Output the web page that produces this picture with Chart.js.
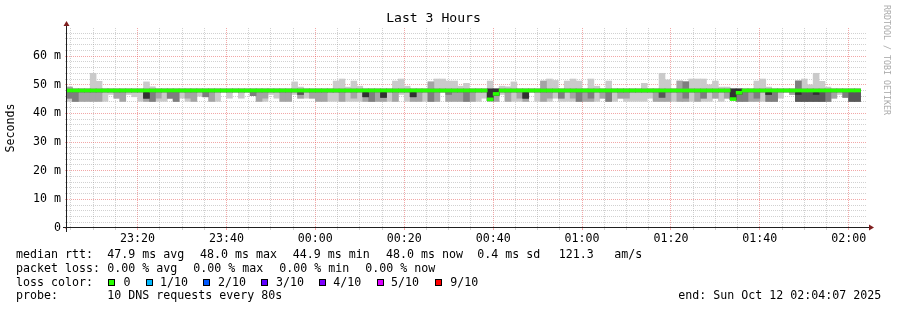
<!DOCTYPE html>
<html>
<head>
<meta charset="utf-8">
<title>Last 3 Hours</title>
<script src="https://cdn.jsdelivr.net/npm/chart.js@4.4.1/dist/chart.umd.min.js"></script>
<style>
  html, body { margin:0; padding:0; background:#fff; }
  #wrap { position:relative; width:897px; height:310px; overflow:hidden; background:#fff; }
  #chart { position:absolute; left:0; top:0; }
  .t { position:absolute; font-family:"DejaVu Sans Mono", monospace; font-size:11.63px; line-height:14px; white-space:pre; color:#000; }
  .sw { position:absolute; width:7px; height:7px; box-sizing:border-box; border:1px solid #000; }
  #wm { position:absolute; left:892px; top:5px; transform-origin:0 0; transform:rotate(90deg);
        font-family:"DejaVu Sans Mono", monospace; font-size:8.3px; line-height:10px; color:#aaaaaa; white-space:pre; }
</style>
</head>
<body>
<div id="wrap">
  <canvas id="chart" width="897" height="310"></canvas>
  <div id="wm">RRDTOOL / TOBI OETIKER</div>

  <div class="t" style="left:16px;top:246.7px">median rtt:</div>
  <div class="t" style="left:107.3px;top:246.7px">47.9 ms avg</div>
  <div class="t" style="left:200px;top:246.7px">48.0 ms max</div>
  <div class="t" style="left:292.7px;top:246.7px">44.9 ms min</div>
  <div class="t" style="left:386px;top:246.7px">48.0 ms now</div>
  <div class="t" style="left:477.3px;top:246.7px">0.4 ms sd</div>
  <div class="t" style="left:558.7px;top:246.7px">121.3</div>
  <div class="t" style="left:614.3px;top:246.7px">am/s</div>

  <div class="t" style="left:16px;top:260.6px">packet loss:</div>
  <div class="t" style="left:107.3px;top:260.6px">0.00 % avg</div>
  <div class="t" style="left:193.3px;top:260.6px">0.00 % max</div>
  <div class="t" style="left:279.3px;top:260.6px">0.00 % min</div>
  <div class="t" style="left:365.3px;top:260.6px">0.00 % now</div>

  <div class="t" style="left:16px;top:274.5px">loss color:</div>
  <div class="sw" style="left:108px;top:278.5px;background:#26ff00"></div>
  <div class="t" style="left:123.5px;top:274.5px">0</div>
  <div class="sw" style="left:146px;top:278.5px;background:#00b8ff"></div>
  <div class="t" style="left:160px;top:274.5px">1/10</div>
  <div class="sw" style="left:203px;top:278.5px;background:#0059ff"></div>
  <div class="t" style="left:218px;top:274.5px">2/10</div>
  <div class="sw" style="left:261px;top:278.5px;background:#5e00ff"></div>
  <div class="t" style="left:276px;top:274.5px">3/10</div>
  <div class="sw" style="left:319px;top:278.5px;background:#7e00ff"></div>
  <div class="t" style="left:333.3px;top:274.5px">4/10</div>
  <div class="sw" style="left:377px;top:278.5px;background:#dd00ff"></div>
  <div class="t" style="left:391px;top:274.5px">5/10</div>
  <div class="sw" style="left:435px;top:278.5px;background:#ff0000"></div>
  <div class="t" style="left:450.3px;top:274.5px">9/10</div>

  <div class="t" style="left:16px;top:288.4px">probe:</div>
  <div class="t" style="left:107.3px;top:288.4px">10 DNS requests every 80s</div>
  <div class="t" style="left:678.3px;top:288.4px">end: Sun Oct 12 02:04:07 2025</div>
</div>

<script>
// ---------------- data ----------------
const windowStart = '23:04:07';
const windowEnd   = '02:04:07';
const firstStepStart = '23:04:00';   // first 80 s step (starts just before the window)
const stepSeconds = 80;

const timeLabels = ['23:20','23:40','00:00','00:20','00:40','01:00','01:20','01:40','02:00'];
const yLabels = ['0','10 m','20 m','30 m','40 m','50 m','60 m'];
const yLabelValues = [0, 10, 20, 30, 40, 50, 60];
const yMaxMs = 69.8;

// median rtt per 80 s step (ms)
const median = [
 48.0,48.0,48.0,48.0,48.0,48.0,48.0,48.0,48.0,48.0,
 48.0,48.0,48.0,48.0,48.0,48.0,48.0,48.0,48.0,48.0,
 48.0,48.0,48.0,48.0,48.0,48.0,48.0,48.0,48.0,48.0,
 48.0,48.0,48.0,48.0,48.0,48.0,48.0,48.0,48.0,48.0,
 48.0,48.0,48.0,48.0,48.0,48.0,48.0,48.0,48.0,48.0,
 48.0,48.0,48.0,48.0,48.0,48.0,48.0,48.0,48.0,48.0,
 48.0,48.0,48.0,48.0,48.0,48.0,48.0,48.0,48.0,48.0,
 48.0,44.9,46.8,48.0,48.0,48.0,48.0,48.0,48.0,48.0,
 48.0,48.0,48.0,48.0,48.0,48.0,48.0,48.0,48.0,48.0,
 48.0,48.0,48.0,48.0,48.0,48.0,48.0,48.0,48.0,48.0,
 48.0,48.0,48.0,48.0,48.0,48.0,48.0,48.0,48.0,48.0,
 48.0,48.0,45.0,47.2,48.0,48.0,48.0,48.0,48.0,48.0,
 48.0,48.0,48.0,48.0,48.0,48.0,48.0,48.0,48.0,48.0,
 48.0,48.0,48.0,48.0];

// sorted pings per step (ms): p1 = fastest ... p10 = slowest
const p1 = [
 44.2,44.2,44.2,44.2,44.2,44.2,44.2,46.6,45.3,44.2,
 46.6,45.8,44.2,44.2,44.2,44.2,44.2,45.3,44.2,45.3,
 44.2,44.2,46.0,45.8,44.2,44.2,47.5,45.3,47.5,45.3,
 47.5,46.2,44.2,44.2,46.6,45.3,44.2,44.2,46.6,45.3,
 45.3,45.3,44.2,44.2,44.2,44.2,44.2,44.2,44.2,44.2,
 44.2,44.2,44.2,44.2,44.2,44.2,46.6,44.2,44.2,44.2,
 44.2,44.2,44.2,47.5,44.2,44.2,44.2,44.2,44.2,44.2,
 45.3,44.4,44.2,46.6,44.2,44.2,44.2,44.2,47.5,44.2,
 44.2,44.2,45.3,44.2,44.2,44.2,44.2,44.2,44.2,44.2,
 45.3,44.2,44.2,45.3,44.2,44.2,44.2,44.2,45.3,44.2,
 44.2,44.2,44.2,44.2,44.2,44.2,44.2,44.2,44.2,45.3,
 44.2,45.3,44.8,44.2,44.2,44.2,44.2,44.2,44.2,44.2,
 45.3,47.5,46.6,44.2,44.2,44.2,44.2,44.2,44.2,45.3,
 46.6,45.6,44.2,44.2];
const p2 = [
 45.3,44.2,44.2,44.2,44.2,44.2,47.5,47.5,45.3,44.2,
 47.5,47.5,47.5,44.2,44.2,45.3,47.5,45.3,44.2,47.5,
 45.3,44.2,47.5,45.8,44.2,47.5,47.5,47.5,47.5,47.5,
 47.5,46.2,44.2,45.3,47.5,47.5,44.2,44.2,47.5,45.3,
 47.5,45.3,44.2,44.2,47.5,47.5,44.2,47.5,45.3,47.5,
 44.2,44.2,44.2,44.2,47.5,44.2,47.5,47.5,44.2,44.2,
 47.5,44.2,44.2,47.5,44.2,44.2,44.2,44.2,44.2,47.5,
 47.5,44.4,44.2,47.5,44.2,47.5,45.3,44.2,47.5,47.5,
 44.2,45.3,47.5,45.3,47.5,45.3,44.2,44.2,44.2,47.5,
 45.3,44.2,47.5,45.3,45.3,47.5,47.5,47.5,47.5,44.2,
 44.2,44.2,47.5,44.2,44.2,47.5,44.2,45.3,47.5,45.3,
 47.5,45.3,44.8,44.2,44.2,44.2,44.2,47.5,44.2,44.2,
 47.5,47.5,46.6,44.2,44.2,44.2,44.2,44.2,44.2,45.3,
 47.5,45.6,44.2,44.2];
const p3 = [
 45.3,44.2,47.5,47.5,47.5,47.5,47.5,47.5,47.5,47.5,
 47.5,47.5,47.5,45.3,44.2,47.5,47.5,45.3,44.2,47.5,
 47.5,47.5,47.5,45.8,47.5,47.5,47.5,47.5,47.5,47.5,
 47.5,46.2,47.5,47.5,47.5,47.5,47.5,47.5,47.5,46.6,
 47.5,47.5,47.5,47.5,47.5,47.5,47.5,47.5,47.5,47.5,
 45.8,44.2,47.5,45.6,47.5,47.5,47.5,47.5,45.8,47.5,
 47.5,44.2,47.5,47.5,46.6,47.5,47.5,44.2,47.5,47.5,
 47.5,44.4,46.3,47.5,47.5,47.5,47.5,45.3,47.5,47.5,
 47.5,47.5,47.5,45.3,47.5,47.5,44.2,47.5,45.3,47.5,
 47.5,44.2,47.5,47.5,47.5,47.5,47.5,47.5,47.5,47.5,
 45.6,47.5,47.5,47.5,45.3,47.5,47.5,45.3,47.5,47.5,
 47.5,47.5,44.8,44.2,44.2,47.5,45.3,47.5,44.2,44.2,
 47.5,47.5,47.5,44.2,44.2,44.2,44.2,44.2,44.2,47.5,
 47.5,45.6,44.2,44.2];
const p4 = [
 47.5,47.5,47.5,47.5,47.5,47.5,47.5,47.5,47.5,47.5,
 47.5,47.5,47.5,45.3,47.5,47.5,47.5,47.5,47.5,47.5,
 47.5,47.5,47.5,47.5,47.5,47.5,47.5,47.5,47.5,47.5,
 47.5,47.5,47.5,47.5,47.5,47.5,47.5,47.5,47.5,46.6,
 47.5,47.5,47.5,47.5,47.5,47.5,47.5,47.5,47.5,47.5,
 45.8,47.5,47.5,45.6,47.5,47.5,47.5,47.5,45.8,47.5,
 47.5,47.5,47.5,47.5,47.5,47.5,47.5,47.5,47.5,47.5,
 47.5,44.4,46.3,47.5,47.5,47.5,47.5,45.3,47.5,47.5,
 47.5,47.5,47.5,47.5,47.5,47.5,47.5,47.5,47.5,47.5,
 47.5,47.5,47.5,47.5,47.5,47.5,47.5,47.5,47.5,47.5,
 45.6,47.5,47.5,47.5,47.5,47.5,47.5,47.5,47.5,47.5,
 47.5,47.5,44.8,46.7,47.5,47.5,47.5,47.5,46.6,47.5,
 47.5,47.5,47.5,44.2,44.2,44.2,44.2,44.2,47.5,47.5,
 47.5,47.5,44.2,44.2];
const p5 = [
 47.7,47.7,47.7,47.7,47.7,47.7,47.7,47.7,47.7,47.7,
 47.7,47.7,47.7,45.3,47.7,47.7,47.7,47.7,47.7,47.7,
 47.7,47.7,47.7,47.7,47.7,47.7,47.7,47.7,47.7,47.7,
 47.7,47.7,47.7,47.7,47.7,47.7,47.7,47.7,47.7,47.7,
 47.7,47.7,47.7,47.7,47.7,47.7,47.7,47.7,47.7,47.7,
 45.8,47.7,47.7,45.6,47.7,47.7,47.7,47.7,45.8,47.7,
 47.7,47.7,47.7,47.7,47.7,47.7,47.7,47.7,47.7,47.7,
 47.7,44.4,46.3,47.7,47.7,47.7,47.7,45.3,47.7,47.7,
 47.7,47.7,47.7,47.7,47.7,47.7,47.7,47.7,47.7,47.7,
 47.7,47.7,47.7,47.7,47.7,47.7,47.7,47.7,47.7,47.7,
 47.7,47.7,47.7,47.7,47.7,47.7,47.7,47.7,47.7,47.7,
 47.7,47.7,44.8,46.7,47.7,47.7,47.7,47.7,46.6,47.7,
 47.7,47.7,47.7,46.6,47.7,47.7,46.6,47.7,47.7,47.7,
 47.7,47.7,47.7,47.7];
const p6 = [
 48.3,48.3,48.3,48.3,48.3,48.3,48.3,48.3,48.3,48.3,
 48.3,48.3,48.3,48.3,48.3,48.3,48.3,48.3,48.3,48.3,
 48.3,48.3,48.3,48.3,48.3,48.3,48.3,48.3,48.3,48.3,
 48.3,48.3,48.3,48.3,48.3,48.3,48.3,48.3,48.3,48.3,
 48.3,48.3,48.3,48.3,48.3,48.3,48.3,48.3,48.3,48.3,
 48.3,48.3,48.3,48.3,48.3,48.3,48.3,48.3,48.3,48.3,
 48.3,48.3,48.3,48.3,48.3,48.3,48.3,48.3,48.3,48.3,
 48.3,48.5,48.5,48.3,48.3,48.3,48.3,48.3,48.3,48.3,
 48.3,48.3,48.3,48.3,48.3,48.3,48.3,48.3,48.3,48.3,
 48.3,48.3,48.3,48.3,48.3,48.3,48.3,48.3,48.3,48.3,
 48.3,48.3,48.3,48.3,48.3,48.3,48.3,48.3,48.3,48.3,
 48.3,48.3,48.5,48.5,48.3,48.3,48.3,48.3,48.3,48.3,
 48.3,48.3,48.3,48.3,48.3,48.3,48.3,48.3,48.3,48.3,
 48.3,48.3,48.3,48.3];
const p7 = [
 48.4,48.4,48.4,48.4,48.4,48.4,48.4,48.4,48.4,48.4,
 48.4,48.4,48.4,48.4,48.4,48.4,48.4,48.4,48.4,48.4,
 48.4,48.4,48.4,48.4,48.4,48.4,48.4,48.4,48.4,48.4,
 48.4,48.4,48.4,48.4,48.4,48.4,48.4,48.4,48.4,48.4,
 48.4,48.4,48.4,48.4,48.4,48.4,48.4,48.4,48.4,48.4,
 48.4,48.4,48.4,48.4,48.4,48.4,48.4,48.4,48.4,48.4,
 48.4,48.4,48.4,48.4,48.4,48.4,48.4,48.4,48.4,48.4,
 48.4,48.5,48.5,48.4,48.4,48.4,48.4,48.4,48.4,48.4,
 48.4,48.4,48.4,48.4,48.4,48.4,48.4,48.4,48.4,48.4,
 48.4,48.4,48.4,48.4,48.4,48.4,48.4,48.4,48.4,48.4,
 48.4,48.4,48.4,48.4,48.4,48.4,48.4,48.4,48.4,48.4,
 48.4,48.4,48.5,48.5,48.4,48.4,48.4,48.4,48.4,48.4,
 48.4,48.4,48.4,48.4,48.4,48.4,48.4,48.4,48.4,48.4,
 48.4,48.4,48.4,48.4];
const p8 = [
 48.5,48.5,48.5,48.5,48.5,48.5,48.5,48.5,48.5,48.5,
 48.5,48.5,48.5,48.5,48.5,48.5,48.5,48.5,48.5,48.5,
 48.5,48.5,48.5,48.5,48.5,48.5,48.5,48.5,48.5,48.5,
 48.5,48.5,48.5,48.5,48.5,48.5,48.5,48.5,48.5,48.5,
 48.5,48.5,48.5,48.5,48.5,48.5,48.5,48.5,48.5,48.5,
 48.5,48.5,48.5,48.5,48.5,48.5,48.5,48.5,48.5,48.5,
 48.5,48.5,48.5,48.5,48.5,48.5,48.5,48.5,48.5,48.5,
 48.5,48.5,48.5,48.5,48.5,48.5,48.5,48.5,48.5,48.5,
 48.5,48.5,48.5,48.5,48.5,48.5,48.5,48.5,48.5,48.5,
 48.5,48.5,48.5,48.5,48.5,48.5,48.5,48.5,48.5,48.5,
 48.5,48.5,48.5,48.5,51.0,48.5,48.5,48.5,48.5,48.5,
 48.5,48.5,48.5,48.5,48.5,48.5,48.5,48.5,48.5,48.5,
 48.5,48.5,48.5,51.3,48.5,48.5,48.5,48.5,48.5,48.5,
 48.5,48.5,48.5,48.5];
const p9 = [
 49.2,48.5,48.5,48.5,48.5,48.5,48.5,48.5,48.5,48.5,
 48.5,48.5,48.5,48.5,48.5,48.5,48.5,48.5,48.5,48.5,
 48.5,48.5,48.5,48.5,48.5,48.5,48.5,48.5,48.5,48.5,
 48.5,48.5,48.5,48.5,48.5,48.5,48.5,48.5,48.5,48.5,
 48.5,48.5,48.5,48.5,48.5,48.5,48.5,48.5,48.5,48.5,
 48.5,48.5,48.5,48.5,48.5,48.5,48.5,48.5,48.5,48.5,
 48.5,51.0,48.5,48.5,48.5,48.5,48.5,48.5,48.5,48.5,
 48.5,48.5,48.5,48.5,48.5,48.5,48.5,48.5,48.5,48.5,
 51.3,48.5,48.5,48.5,48.5,48.5,48.5,48.5,48.5,48.5,
 48.5,48.5,48.5,48.5,48.5,48.5,48.5,48.5,48.5,48.5,
 48.5,48.5,48.5,51.3,51.0,48.5,48.5,48.5,48.5,48.5,
 48.5,48.5,48.5,48.5,48.5,48.5,48.5,48.5,48.5,48.5,
 48.5,48.5,48.5,51.3,48.5,48.5,48.5,48.5,48.5,48.5,
 48.5,48.5,48.5,48.5];
const p10 = [
 49.2,48.6,48.6,48.6,54.0,51.2,48.6,48.6,48.6,48.6,
 48.6,48.6,48.6,51.0,49.3,48.6,48.6,48.6,48.6,48.6,
 48.6,48.6,48.6,48.6,48.6,48.6,48.6,48.6,48.6,48.6,
 48.6,48.6,48.6,48.6,48.6,48.6,48.6,48.6,51.0,49.2,
 48.6,48.6,48.6,48.6,48.6,51.3,52.0,49.2,51.3,49.5,
 48.6,48.6,48.6,48.6,48.6,51.3,52.0,49.5,48.6,48.6,
 48.6,51.0,52.0,52.0,51.3,51.3,49.5,50.5,48.6,48.6,
 48.6,51.3,48.6,49.5,49.3,51.0,48.6,48.6,48.6,48.6,
 51.3,52.0,51.5,48.6,51.3,52.0,51.3,48.6,52.0,49.5,
 48.6,51.3,48.6,48.6,48.6,48.6,48.6,50.5,48.6,48.6,
 54.0,51.7,48.6,51.3,51.0,52.0,52.0,52.0,50.0,51.3,
 49.2,49.2,48.6,48.6,48.6,48.6,51.3,52.0,49.2,48.6,
 48.6,48.6,48.6,51.3,52.0,50.0,54.0,51.2,49.2,48.6,
 48.6,48.6,48.6,48.6];

// ---------------- chart ----------------
const FONT = '"DejaVu Sans Mono", monospace';
const smokeGrays = ['#cacaca', '#a4a4a4', '#7e7e7e', '#585858', '#323232'];
const lossColor0 = '#26ff00';
const minorGrid = 'rgba(140,140,140,0.4)';
const majorGrid = 'rgba(230,80,80,0.5)';
const axisColor = '#1f1f1f';
const arrowColor = '#7f1f1f';

const toMin = s => {
  const [h, m, sec] = s.split(':').map(Number);
  let v = h * 60 + m + (sec || 0) / 60;
  if (h >= 12) v -= 1440;
  return v;
};
const xMin = toMin(windowStart), xMax = toMin(windowEnd);
const stepMin = stepSeconds / 60;
const t0 = toMin(firstStepStart);
const xs = median.map((_, i) => t0 + (i + 0.5) * stepMin);

const majorX = timeLabels.map(l => toMin(l + ':00'));
const gridX = [];
for (let v = Math.ceil(xMin / 5) * 5; v <= xMax; v += 5) gridX.push(v);
const gridY = [];
for (let v = 2; v < yMaxMs; v += 2) gridY.push(v);
gridY.unshift(0);

const isMajorX = v => majorX.some(m => Math.abs(m - v) < 1e-6);
const pairs = [[p1, p10], [p2, p9], [p3, p8], [p4, p7], [p5, p6]];
const datasets = pairs.map(([lo, hi], i) => ({
  label: 'smoke ' + (i + 1),
  data: xs.map((x, k) => ({ x, y: [lo[k], hi[k]] })),
  backgroundColor: smokeGrays[i],
  borderWidth: 0,
  grouped: false,
  barPercentage: 1,
  categoryPercentage: 1,
  order: 10 - i
}));
const medHalf = 0.52;
datasets.push({
  label: 'median rtt',
  data: xs.map((x, k) => ({ x, y: [median[k] - medHalf, median[k] + medHalf] })),
  backgroundColor: lossColor0,
  borderWidth: 0,
  grouped: false,
  barPercentage: 1,
  categoryPercentage: 1,
  order: 1
});

const rrdAxes = {
  id: 'rrdAxes',
  afterDraw(chart) {
    const { ctx, chartArea: { left, right, top, bottom } } = chart;
    ctx.save();
    ctx.strokeStyle = axisColor;
    ctx.lineWidth = 1;
    ctx.beginPath();
    ctx.moveTo(left - 4, bottom - 0.5); ctx.lineTo(right + 4, bottom - 0.5);
    ctx.moveTo(left - 0.5, bottom + 4); ctx.lineTo(left - 0.5, top - 4);
    ctx.stroke();
    ctx.fillStyle = arrowColor;
    ctx.beginPath();
    ctx.moveTo(right + 2, bottom - 0.5 - 3); ctx.lineTo(right + 2, bottom - 0.5 + 3); ctx.lineTo(right + 7, bottom - 0.5);
    ctx.closePath(); ctx.fill();
    ctx.beginPath();
    ctx.moveTo(left - 0.5 - 3, top - 2); ctx.lineTo(left - 0.5 + 3, top - 2); ctx.lineTo(left - 0.5, top - 7);
    ctx.closePath(); ctx.fill();
    ctx.restore();
  }
};

new Chart(document.getElementById('chart'), {
  type: 'bar',
  data: { datasets },
  plugins: [rrdAxes],
  options: {
    responsive: false,
    animation: false,
    devicePixelRatio: 1,
    layout: { padding: { left: 0, right: 30, top: 0, bottom: 0 } },
    plugins: {
      legend: { display: false },
      tooltip: { enabled: false },
      title: {
        display: true, text: 'Last 3 Hours', color: '#000',
        font: { family: FONT, size: 13.1, weight: 'normal' },
        padding: { top: 11, bottom: 1.3 }
      }
    },
    scales: {
      x: {
        type: 'linear', min: xMin, max: xMax, offset: false,
        afterBuildTicks: s => { s.ticks = gridX.map(v => ({ value: v })); },
        afterFit: s => { s.height = 82; },
        grid: {
          offset: false, lineWidth: 1,
          color: c => isMajorX(c.tick.value) ? majorGrid : minorGrid,
          drawTicks: true, tickLength: 2,
          tickColor: c => isMajorX(c.tick.value) ? majorGrid : minorGrid
        },
        border: { display: false, dash: [1, 1] },
        ticks: {
          autoSkip: false, maxRotation: 0, minRotation: 0, padding: 2, color: '#000',
          font: { family: FONT, size: 11.63 },
          callback: v => { const i = majorX.findIndex(m => Math.abs(m - v) < 1e-6); return i >= 0 ? timeLabels[i] : ''; }
        }
      },
      y: {
        min: 0, max: yMaxMs,
        afterBuildTicks: s => { s.ticks = gridY.map(v => ({ value: v })); },
        afterFit: s => { s.width = 67; },
        grid: {
          lineWidth: 1,
          color: c => c.tick.value === 0 ? 'rgba(0,0,0,0)' : (c.tick.value % 10 === 0 ? majorGrid : minorGrid),
          drawTicks: true, tickLength: 2,
          tickColor: c => (c.tick.value % 10 === 0 ? majorGrid : minorGrid)
        },
        border: { display: false, dash: [1, 1] },
        title: {
          display: true, text: 'Seconds', color: '#000',
          font: { family: FONT, size: 11.63 },
          padding: { top: 3.5, bottom: 0 }
        },
        ticks: {
          autoSkip: false, padding: 4, color: '#000',
          font: { family: FONT, size: 11.63 },
          callback: v => { const i = yLabelValues.indexOf(v); return i >= 0 ? yLabels[i] : ''; }
        }
      }
    }
  }
});
</script>
</body>
</html>
